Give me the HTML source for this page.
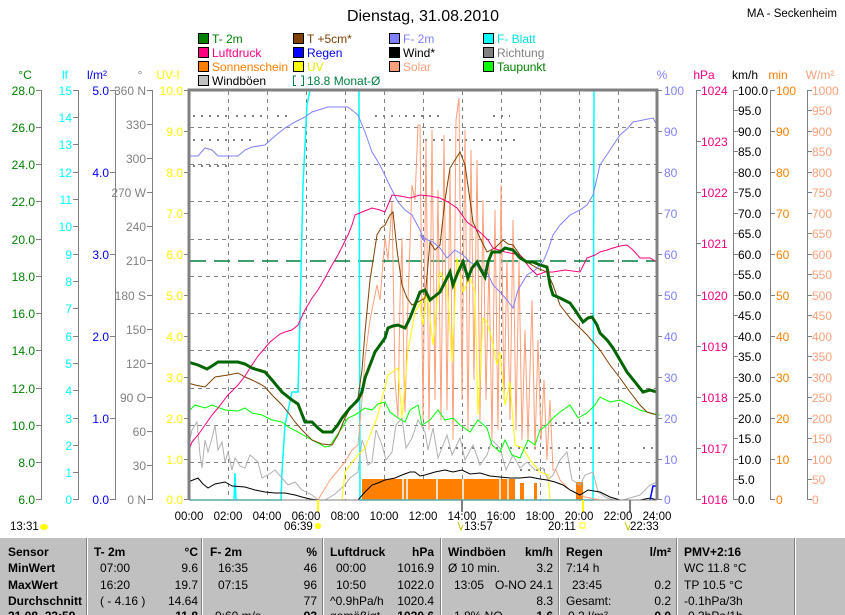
<!DOCTYPE html>
<html><head><meta charset="utf-8"><style>
html,body{margin:0;padding:0;background:#fff;}
body{width:845px;height:615px;overflow:hidden;position:relative;font-family:"Liberation Sans",sans-serif;}
svg{position:absolute;left:0;top:0;}
text{font-family:"Liberation Sans",sans-serif;}
</style></head><body>
<svg width="845" height="615" viewBox="0 0 845 615" xmlns="http://www.w3.org/2000/svg" font-size="12">
<rect width="845" height="615" fill="#fff"/>
<text x="423" y="21" style="font-size:16px" text-anchor="middle">Dienstag, 31.08.2010</text>
<text x="837" y="17" style="font-size:11.5px" text-anchor="end">MA - Seckenheim</text>

<!-- legend -->
<g font-size="12">
<rect x="198.5" y="33.5" width="10" height="10" fill="#008000" stroke="#000"/><text x="212" y="43" fill="#008000">T- 2m</text>
<rect x="198.5" y="47.5" width="10" height="10" fill="#ff0080" stroke="#000"/><text x="212" y="57" fill="#ff0080">Luftdruck</text>
<rect x="198.5" y="61.5" width="10" height="10" fill="#ff8000" stroke="#000"/><text x="212" y="71" fill="#ff8000">Sonnenschein</text>
<rect x="198.5" y="75.5" width="10" height="10" fill="#c0c0c0" stroke="#000"/><text x="212" y="85" fill="#000">Windböen</text>
<rect x="293.5" y="33.5" width="10" height="10" fill="#804000" stroke="#000"/><text x="307" y="43" fill="#804000">T +5cm*</text>
<rect x="293.5" y="47.5" width="10" height="10" fill="#0000ff" stroke="#000"/><text x="307" y="57" fill="#0000ff">Regen</text>
<rect x="293.5" y="61.5" width="10" height="10" fill="#ffff00" stroke="#000"/><text x="307" y="71" fill="#e8e800">UV</text>
<path d="M296 76 H293.5 V85.5 H296 M301 76 H303.5 V85.5 H301" fill="none" stroke="#008040"/><text x="307" y="85" fill="#008040">18.8 Monat-Ø</text>
<rect x="389.5" y="33.5" width="10" height="10" fill="#8080ff" stroke="#000"/><text x="403" y="43" fill="#8080ff">F- 2m</text>
<rect x="389.5" y="47.5" width="10" height="10" fill="#000" stroke="#000"/><text x="403" y="57" fill="#000">Wind*</text>
<rect x="389.5" y="61.5" width="10" height="10" fill="#ffa07a" stroke="#000"/><text x="403" y="71" fill="#ffa07a">Solar</text>
<rect x="483.5" y="33.5" width="10" height="10" fill="#00ffff" stroke="#000"/><text x="497" y="43" fill="#00e0e0">F- Blatt</text>
<rect x="483.5" y="47.5" width="10" height="10" fill="#808080" stroke="#000"/><text x="497" y="57" fill="#808080">Richtung</text>
<rect x="483.5" y="61.5" width="10" height="10" fill="#00ff00" stroke="#000"/><text x="497" y="71" fill="#008000">Taupunkt</text>
</g>

<!-- unit labels -->
<g font-size="12">
<text x="25" y="79" text-anchor="middle" fill="#008000">°C</text>
<text x="65" y="79" text-anchor="middle" fill="#00ffff">lf</text>
<text x="97" y="79" text-anchor="middle" fill="#0000ff">l/m²</text>
<text x="140" y="79" text-anchor="middle" fill="#808080">°</text>
<text x="168" y="79" text-anchor="middle" fill="#ffff00">UV-I</text>
<text x="662" y="79" text-anchor="middle" fill="#8080ff">%</text>
<text x="704" y="79" text-anchor="middle" fill="#ff0080">hPa</text>
<text x="745" y="79" text-anchor="middle" fill="#000">km/h</text>
<text x="778" y="79" text-anchor="middle" fill="#ff8000">min</text>
<text x="820" y="79" text-anchor="middle" fill="#ffa07a">W/m²</text>
</g>

<!-- left axes -->
<g stroke="#808080" stroke-width="1" fill="none">
<path d="M41.5 90 V500 M78.5 90 V500 M115.5 90 V500 M152.5 90 V500"/>
<path d="M36 90.5H41 M36 127.5H41 M36 164.5H41 M36 201.5H41 M36 239.5H41 M36 276.5H41 M36 313.5H41 M36 350.5H41 M36 388.5H41 M36 425.5H41 M36 462.5H41 M36 499.5H41"/>
<path d="M73 90.5H78 M73 117.5H78 M73 144.5H78 M73 172.5H78 M73 199.5H78 M73 226.5H78 M73 254.5H78 M73 281.5H78 M73 308.5H78 M73 336.5H78 M73 363.5H78 M73 390.5H78 M73 418.5H78 M73 445.5H78 M73 472.5H78 M73 499.5H78"/>
<path d="M110 90.5H115 M110 172.5H115 M110 254.5H115 M110 336.5H115 M110 418.5H115 M110 499.5H115"/>
<path d="M147 90.5H152 M147 124.5H152 M147 158.5H152 M147 192.5H152 M147 226.5H152 M147 260.5H152 M147 295.5H152 M147 329.5H152 M147 363.5H152 M147 397.5H152 M147 431.5H152 M147 465.5H152 M147 499.5H152"/>
<path d="M184 90.5H189 M184 131.5H189 M184 172.5H189 M184 213.5H189 M184 254.5H189 M184 295.5H189 M184 336.5H189 M184 377.5H189 M184 418.5H189 M184 459.5H189 M184 499.5H189"/>
</g>
<g font-size="12" text-anchor="end">
<g fill="#008000">
<text x="35" y="95">28.0</text><text x="35" y="132">26.0</text><text x="35" y="169">24.0</text><text x="35" y="206">22.0</text><text x="35" y="244">20.0</text><text x="35" y="281">18.0</text><text x="35" y="318">16.0</text><text x="35" y="355">14.0</text><text x="35" y="393">12.0</text><text x="35" y="430">10.0</text><text x="35" y="467">8.0</text><text x="35" y="504">6.0</text>
</g>
<g fill="#00ffff">
<text x="72" y="95">15</text><text x="72" y="122">14</text><text x="72" y="149">13</text><text x="72" y="177">12</text><text x="72" y="204">11</text><text x="72" y="231">10</text><text x="72" y="259">9</text><text x="72" y="286">8</text><text x="72" y="313">7</text><text x="72" y="341">6</text><text x="72" y="368">5</text><text x="72" y="395">4</text><text x="72" y="423">3</text><text x="72" y="450">2</text><text x="72" y="477">1</text><text x="72" y="504">0</text>
</g>
<g fill="#0000ff">
<text x="109" y="95">5.0</text><text x="109" y="177">4.0</text><text x="109" y="259">3.0</text><text x="109" y="341">2.0</text><text x="109" y="423">1.0</text><text x="109" y="504">0.0</text>
</g>
<g fill="#808080">
<text x="146" y="95">360 N</text><text x="146" y="129">330</text><text x="146" y="163">300</text><text x="146" y="197">270 W</text><text x="146" y="231">240</text><text x="146" y="265">210</text><text x="146" y="300">180 S</text><text x="146" y="334">150</text><text x="146" y="368">120</text><text x="146" y="402">90 O</text><text x="146" y="436">60</text><text x="146" y="470">30</text><text x="146" y="504">0 N</text>
</g>
<g fill="#ffff00">
<text x="183" y="95">10.0</text><text x="183" y="136">9.0</text><text x="183" y="177">8.0</text><text x="183" y="218">7.0</text><text x="183" y="259">6.0</text><text x="183" y="300">5.0</text><text x="183" y="341">4.0</text><text x="183" y="382">3.0</text><text x="183" y="423">2.0</text><text x="183" y="464">1.0</text><text x="183" y="504">0.0</text>
</g>
</g>

<!-- right axes -->
<g stroke="#808080" stroke-width="1" fill="none">
<path d="M696.5 90 V500 M733.5 90 V500 M770.5 90 V500 M807.5 90 V500"/>
<path d="M657 90.5H662 M657 131.5H662 M657 172.5H662 M657 213.5H662 M657 254.5H662 M657 295.5H662 M657 336.5H662 M657 377.5H662 M657 418.5H662 M657 459.5H662 M657 499.5H662"/>
<path d="M696 90.5H701 M696 141.5H701 M696 192.5H701 M696 243.5H701 M696 295.5H701 M696 346.5H701 M696 397.5H701 M696 448.5H701 M696 499.5H701"/>
<path d="M733 90.5H738 M733 110.5H738 M733 131.5H738 M733 151.5H738 M733 172.5H738 M733 192.5H738 M733 213.5H738 M733 233.5H738 M733 254.5H738 M733 274.5H738 M733 295.5H738 M733 315.5H738 M733 336.5H738 M733 356.5H738 M733 377.5H738 M733 397.5H738 M733 418.5H738 M733 438.5H738 M733 459.5H738 M733 479.5H738 M733 499.5H738"/>
<path d="M770 90.5H775 M770 131.5H775 M770 172.5H775 M770 213.5H775 M770 254.5H775 M770 295.5H775 M770 336.5H775 M770 377.5H775 M770 418.5H775 M770 459.5H775 M770 499.5H775"/>
<path d="M807 90.5H812 M807 110.5H812 M807 131.5H812 M807 151.5H812 M807 172.5H812 M807 192.5H812 M807 213.5H812 M807 233.5H812 M807 254.5H812 M807 274.5H812 M807 295.5H812 M807 315.5H812 M807 336.5H812 M807 356.5H812 M807 377.5H812 M807 397.5H812 M807 418.5H812 M807 438.5H812 M807 459.5H812 M807 479.5H812 M807 499.5H812"/>
</g>
<g font-size="12">
<g fill="#8080ff">
<text x="664" y="95">100</text><text x="664" y="136">90</text><text x="664" y="177">80</text><text x="664" y="218">70</text><text x="664" y="259">60</text><text x="664" y="300">50</text><text x="664" y="341">40</text><text x="664" y="382">30</text><text x="664" y="423">20</text><text x="664" y="464">10</text><text x="664" y="504">0</text>
</g>
<g fill="#ff0080">
<text x="701" y="95">1024</text><text x="701" y="146">1023</text><text x="701" y="197">1022</text><text x="701" y="248">1021</text><text x="701" y="300">1020</text><text x="701" y="351">1019</text><text x="701" y="402">1018</text><text x="701" y="453">1017</text><text x="701" y="504">1016</text>
</g>
<g fill="#000">
<text x="738" y="95">100.0</text><text x="738" y="115">95.0</text><text x="738" y="136">90.0</text><text x="738" y="156">85.0</text><text x="738" y="177">80.0</text><text x="738" y="197">75.0</text><text x="738" y="218">70.0</text><text x="738" y="238">65.0</text><text x="738" y="259">60.0</text><text x="738" y="279">55.0</text><text x="738" y="300">50.0</text><text x="738" y="320">45.0</text><text x="738" y="341">40.0</text><text x="738" y="361">35.0</text><text x="738" y="382">30.0</text><text x="738" y="402">25.0</text><text x="738" y="423">20.0</text><text x="738" y="443">15.0</text><text x="738" y="464">10.0</text><text x="738" y="484">5.0</text><text x="738" y="504">0.0</text>
</g>
<g fill="#ff8000">
<text x="776" y="95">100</text><text x="776" y="136">90</text><text x="776" y="177">80</text><text x="776" y="218">70</text><text x="776" y="259">60</text><text x="776" y="300">50</text><text x="776" y="341">40</text><text x="776" y="382">30</text><text x="776" y="423">20</text><text x="776" y="464">10</text><text x="776" y="504">0</text>
</g>
<g fill="#ffa07a">
<text x="812" y="95">1000</text><text x="812" y="115">950</text><text x="812" y="136">900</text><text x="812" y="156">850</text><text x="812" y="177">800</text><text x="812" y="197">750</text><text x="812" y="218">700</text><text x="812" y="238">650</text><text x="812" y="259">600</text><text x="812" y="279">550</text><text x="812" y="300">500</text><text x="812" y="320">450</text><text x="812" y="341">400</text><text x="812" y="361">350</text><text x="812" y="382">300</text><text x="812" y="402">250</text><text x="812" y="423">200</text><text x="812" y="443">150</text><text x="812" y="464">100</text><text x="812" y="484">50</text><text x="812" y="504">0</text>
</g>
</g>

<!-- grid -->
<g stroke="#808080" stroke-dasharray="4 4" stroke-width="1" fill="none">
<path d="M228.5 91V500 M267.5 91V500 M306.5 91V500 M345.5 91V500 M384.5 91V500 M423.5 91V500 M462.5 91V500 M501.5 91V500 M540.5 91V500 M579.5 91V500 M618.5 91V500"/>
<path d="M190 127.5H656 M190 164.5H656 M190 201.5H656 M190 239.5H656 M190 276.5H656 M190 313.5H656 M190 350.5H656 M190 388.5H656 M190 425.5H656 M190 462.5H656"/>
</g>

<!-- Richtung dashes -->
<g stroke="#808080" stroke-width="2" stroke-dasharray="2 6" fill="none">
<path d="M193 116H232 M236 116H262 M277 116H290 M375 116H400 M405 116H440 M493 116H510"/>
<path d="M193 140H255 M425 140H520"/>
<path d="M193 166H230 M425 166H430"/>
<path d="M555 423H600"/>
<path d="M440 448H500 M510 448H600 M643 448H657"/>
<path d="M520 470H545"/>
</g>

<!-- Sonnenschein -->
<rect x="362" y="479" width="153" height="21" fill="#ff8000"/>
<g stroke="#fff" stroke-width="1.5">
<path d="M403 479V500 M407 479V500 M437 479V500 M463 479V500 M500 479V500 M508 479V500"/>
</g>
<rect x="520" y="483" width="4" height="17" fill="#ff8000"/>
<rect x="534" y="483" width="3" height="17" fill="#ff8000"/>
<rect x="576" y="482" width="7" height="18" fill="#ff8000"/>

<!-- Monat-Ø -->
<path d="M190 261H656" stroke="#008040" stroke-width="1.5" stroke-dasharray="16 8"/>

<!-- F-Blatt -->
<polyline fill="none" stroke="#00ffff" stroke-width="1.5" points="189,500 234,500 235,473 236,500 281,500 282,472 285,425 292,392 298,392 300,318 303,185 307,105 310,90 359,90 360,500 593,500 594,90 657,90"/>

<!-- Windböen -->
<polyline fill="none" stroke="#b0b0b0" stroke-width="1" points="188,448 192,430 197,422 200,455 202,468 205,440 208,452 212,438 215,425 218,450 222,442 225,462 228,452 232,470 235,458 240,466 245,468 250,455 258,462 262,478 268,475 275,470 282,478 288,485 295,482 302,490 312,495 318,500 325,500 335,494 345,485 350,478 358,472 362,440 365,448 368,465 372,462 376,430 382,445 386,460 392,452 396,425 402,418 406,448 412,438 418,420 425,432 428,450 433,428 438,458 447,435 452,455 460,438 465,460 473,445 480,465 487,455 492,440 500,448 506,470 513,455 520,468 527,462 535,470 543,468 548,480 553,475 560,460 567,452 572,480 580,485 585,475 593,472 598,492 607,498 615,500 623,500 640,495 650,485 657,482"/>

<!-- Solar -->
<polyline fill="none" stroke="#ffa07a" stroke-width="1" points="318,500 330,480 345,462 352,450 358,445 362,400 365,358 370,320 377,285 380,300 385,238 388,260 392,202 395,380 398,418 400,300 402,238 404,380 405,412 408,300 412,185 415,200 418,125 420,125 423,420 426,140 429,430 432,130 435,400 438,190 441,420 444,135 447,410 450,170 453,440 456,120 459,98 462,400 465,130 468,430 471,150 474,380 477,160 480,420 483,200 486,400 489,260 492,440 495,210 498,430 501,185 504,400 507,260 510,420 513,220 516,430 519,260 522,440 525,330 528,440 532,300 535,450 538,340 541,440 544,380 547,460 550,400 553,470 556,470 560,480 570,490 585,497 600,500 657,500"/>

<!-- UV -->
<polyline fill="none" stroke="#ffff00" stroke-width="1" points="318,500 342,500 345,472 350,465 358,455 365,448 372,430 377,418 383,395 388,375 398,368 402,418 408,350 415,312 425,295 420,305 423,325 427,292 433,345 437,300 440,272 447,285 452,362 457,258 463,292 470,278 475,292 478,415 483,318 487,322 492,340 497,365 500,352 505,405 510,382 515,445 523,448 530,460 540,472 548,475 550,500"/>

<!-- Taupunkt -->
<polyline fill="none" stroke="#00ff00" stroke-width="1" points="188,412 195,405 205,408 212,405 225,410 238,411 245,408 252,413 262,415 272,420 282,422 290,428 298,432 305,436 312,440 318,443 325,447 330,446 335,438 342,428 348,418 355,415 365,408 372,410 378,404 385,402 390,412 398,418 405,422 410,410 418,405 422,425 430,420 438,410 445,420 453,418 460,425 470,432 478,420 487,428 492,445 500,452 505,440 512,455 520,458 528,440 535,445 540,430 547,425 553,418 560,412 570,405 578,418 587,413 595,405 600,397 610,402 620,400 630,405 640,410 650,413 660,415"/>

<!-- T+5cm -->
<polyline fill="none" stroke="#804000" stroke-width="1" points="188,383 195,385 205,387 210,382 215,377 228,375 238,373 245,377 252,380 260,384 265,387 272,395 282,405 290,415 295,422 302,430 312,440 322,444 332,445 338,435 345,418 352,405 358,398 362,370 365,332 370,280 377,235 381,228 385,225 390,215 393,212 397,250 402,285 407,298 412,305 418,302 425,298 430,242 435,250 440,245 445,200 450,168 455,160 460,152 465,165 470,200 473,222 480,238 487,252 495,248 503,240 508,244 513,245 520,255 527,262 537,268 547,272 553,285 560,305 570,318 580,328 587,335 600,350 610,365 620,378 630,392 640,405 647,412 657,415"/>

<!-- F-2m -->
<polyline fill="none" stroke="#8080ff" stroke-width="1" points="188,156 198,156 205,148 212,150 218,156 238,156 245,150 252,147 265,145 275,136 285,128 295,122 305,117 312,112 328,107 340,107 348,107 358,115 365,132 372,152 380,165 388,182 393,192 398,202 405,210 412,215 420,230 425,242 420,235 428,240 433,242 440,248 447,258 455,250 463,255 470,262 480,268 487,272 493,285 500,292 507,300 513,308 518,290 527,275 535,270 543,262 548,250 553,235 560,225 570,215 580,210 587,205 593,195 597,178 600,165 610,150 620,135 628,128 633,122 643,120 653,118 657,125"/>

<!-- Luftdruck -->
<polyline fill="none" stroke="#ff0080" stroke-width="1" points="188,453 192,442 198,435 205,425 212,415 218,408 228,395 238,385 245,376 252,365 258,356 265,348 270,342 275,338 280,334 285,332 292,330 298,325 305,310 312,298 318,290 325,278 332,265 338,255 343,245 348,235 352,225 355,215 362,212 372,208 380,210 385,212 390,200 392,195 400,196 410,198 420,195 430,196 440,198 448,202 457,208 462,215 467,222 475,228 483,235 488,240 493,248 505,252 520,255 530,268 537,275 545,272 553,272 565,270 580,272 585,262 587,258 595,255 600,252 607,250 613,248 620,246 627,245 633,250 640,258 650,258 657,262"/>

<!-- T-2m -->
<polyline fill="none" stroke="#006400" stroke-width="3" points="188,362 198,365 207,369 212,366 218,362 238,362 245,364 252,368 258,370 265,372 272,380 282,392 292,400 298,404 305,422 312,422 318,428 323,432 332,432 337,426 342,418 350,408 358,400 362,392 365,378 370,365 375,352 380,345 385,338 388,328 393,326 398,325 405,328 410,318 415,305 420,292 425,290 430,300 435,296 440,292 445,282 450,272 453,285 458,272 463,262 468,278 472,268 477,262 481,270 485,277 488,262 492,252 500,252 505,248 513,250 520,258 527,262 533,262 540,265 547,267 550,285 553,295 560,298 570,303 575,310 583,322 588,318 592,317 597,325 600,333 607,340 613,348 620,360 627,372 635,382 643,392 650,390 657,392"/>

<!-- Wind -->
<polyline fill="none" stroke="#000" stroke-width="1" points="188,482 193,480 198,478 203,484 208,488 215,484 225,482 232,486 245,487 255,490 265,492 275,493 285,493 295,495 302,497 310,499 318,500 358,500 365,492 372,485 378,483 385,480 395,478 402,475 410,472 415,472 420,476 425,475 435,472 445,470 453,472 462,470 470,474 480,473 490,476 500,477 510,478 520,478 530,477 540,479 547,480 555,482 563,485 570,490 580,495 588,490 600,492 610,497 620,500 640,500 650,498 657,500"/>
<polyline fill="none" stroke="#0000ff" stroke-width="1.5" points="650,500 653,486 657,486"/>

<!-- plot frame -->
<path d="M189 500 V90 H657 V500" fill="none" stroke="#808080" stroke-width="3"/>
<path d="M189 500 H657" stroke="#808080" stroke-width="1"/>

<!-- bottom markers -->
<path d="M318 500V512" stroke="#ffff00" stroke-width="2"/>
<path d="M462 500V512" stroke="#808080" stroke-width="2"/>
<path d="M583 500V512" stroke="#ffff00" stroke-width="2"/>
<path d="M630 500V512" stroke="#808080" stroke-width="2"/>

<!-- time labels -->
<g font-size="11.5" text-anchor="middle" fill="#000">
<text x="189" y="520">00:00</text><text x="228" y="520">02:00</text><text x="267" y="520">04:00</text><text x="306" y="520">06:00</text><text x="345" y="520">08:00</text><text x="384" y="520">10:00</text><text x="423" y="520">12:00</text><text x="462" y="520">14:00</text><text x="501" y="520">16:00</text><text x="540" y="520">18:00</text><text x="579" y="520">20:00</text><text x="618" y="520">22:00</text><text x="657" y="520">24:00</text>
</g>
<g font-size="11.5" fill="#000">
<text x="10" y="530">13:31</text><ellipse cx="44" cy="527" rx="4" ry="3" fill="#ffff00"/>
<text x="284" y="530">06:39</text><circle cx="318" cy="526" r="3" fill="#ffff00"/>
<text x="464" y="530">13:57</text><path d="M458 522 L461 530 L463 525" stroke="#c0c000" fill="none"/>
<text x="548" y="530">20:11</text><rect x="580" y="523" width="5" height="5" fill="none" stroke="#ffff00"/>
<text x="630" y="530">22:33</text><path d="M625 522 L628 530 L630 525" stroke="#c0c000" fill="none"/>
</g>

<!-- table -->
<rect x="0" y="538" width="845" height="77" fill="#c0c0c0"/>
<g stroke-width="1">
<path d="M86.5 538V615 M201.5 538V615 M322.5 538V615 M440.5 538V615 M558.5 538V615 M676.5 538V615 M794.5 538V615" stroke="#808080"/>
<path d="M87.5 538V615 M202.5 538V615 M323.5 538V615 M441.5 538V615 M559.5 538V615 M677.5 538V615 M795.5 538V615" stroke="#fff"/>
</g>
<g font-size="12" fill="#000">
<g font-weight="bold">
<text x="8" y="556">Sensor</text><text x="8" y="572">MinWert</text><text x="8" y="589">MaxWert</text><text x="8" y="605">Durchschnitt</text><text x="8" y="620">31.08. 23:59</text>
<text x="94" y="556">T- 2m</text><text x="198" y="556" text-anchor="end">°C</text>
<text x="210" y="556">F- 2m</text><text x="317" y="556" text-anchor="end">%</text>
<text x="330" y="556">Luftdruck</text><text x="434" y="556" text-anchor="end">hPa</text>
<text x="448" y="556">Windböen</text><text x="553" y="556" text-anchor="end">km/h</text>
<text x="566" y="556">Regen</text><text x="671" y="556" text-anchor="end">l/m²</text>
<text x="684" y="556">PMV+2:16</text>
<text x="198" y="620" text-anchor="end">11.8</text><text x="317" y="620" text-anchor="end">93</text><text x="434" y="620" text-anchor="end">1020.6</text><text x="553" y="620" text-anchor="end">1.6</text><text x="671" y="620" text-anchor="end">0.0</text>
</g>
<text x="100" y="572">07:00</text><text x="198" y="572" text-anchor="end">9.6</text>
<text x="100" y="589">16:20</text><text x="198" y="589" text-anchor="end">19.7</text>
<text x="100" y="605">( - 4.16 )</text><text x="198" y="605" text-anchor="end">14.64</text>
<text x="218" y="572">16:35</text><text x="317" y="572" text-anchor="end">46</text>
<text x="218" y="589">07:15</text><text x="317" y="589" text-anchor="end">96</text>
<text x="317" y="605" text-anchor="end">77</text><text x="215" y="620">9:60 m/s</text>
<text x="336" y="572">00:00</text><text x="434" y="572" text-anchor="end">1016.9</text>
<text x="336" y="589">10:50</text><text x="434" y="589" text-anchor="end">1022.0</text>
<text x="330" y="605">^0.9hPa/h</text><text x="434" y="605" text-anchor="end">1020.4</text><text x="330" y="620">gemäßigt</text>
<text x="448" y="572">Ø 10 min.</text><text x="553" y="572" text-anchor="end">3.2</text>
<text x="454" y="589">13:05</text><text x="553" y="589" text-anchor="end">O-NO 24.1</text>
<text x="553" y="605" text-anchor="end">8.3</text><text x="454" y="620">1.8% NO</text>
<text x="566" y="572">7:14 h</text>
<text x="572" y="589">23:45</text><text x="671" y="589" text-anchor="end">0.2</text>
<text x="566" y="605">Gesamt:</text><text x="671" y="605" text-anchor="end">0.2</text><text x="568" y="620">0.2 l/m²</text>
<text x="684" y="572">WC 11.8 °C</text>
<text x="684" y="589">TP 10.5 °C</text>
<text x="684" y="605">-0.1hPa/3h</text><text x="684" y="620">-0.3hPa/1h</text>
</g>
</svg>
</body></html>
